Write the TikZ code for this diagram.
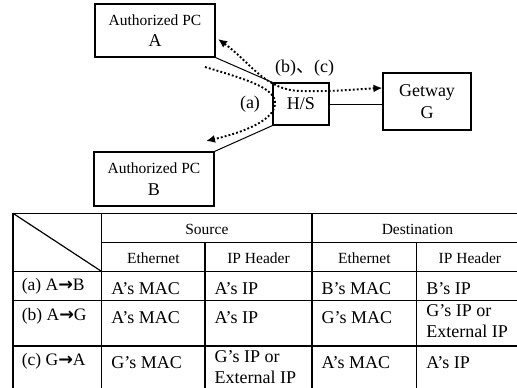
\documentclass[tikz,border=0pt]{standalone}
\usepackage{fontspec}
\setmainfont{Liberation Serif}
\newfontfamily\cjkfont{Noto Sans CJK SC}
\newfontfamily\arrowfont{DejaVu Sans}
\usetikzlibrary{arrows.meta}
\newcommand\pcsize{\fontsize{15.5}{21.5}\selectfont}
\newcommand\bigsize{\fontsize{18}{21.5}\selectfont}
\newcommand\hdsize{\fontsize{15.5}{18}\selectfont}
\newcommand\cellsize{\fontsize{18}{21.5}\selectfont}
\newcommand\rowsize{\fontsize{17.5}{21}\selectfont}
\newcommand\toarrow{{\arrowfont\bfseries →}}

\begin{document}
\begin{tikzpicture}[x=1pt,y=-1pt,
  >={Latex[length=9pt,width=8pt]},
  box/.style={draw,line width=1.2pt,inner sep=0pt,align=center},
  link/.style={line width=1pt},
  flow/.style={line width=1.9pt,dash pattern=on 1.9pt off 2.1pt},
  lab/.style={font=\bigsize,inner sep=0pt},
  grid/.style={line width=1.2pt},
  hd/.style={font=\hdsize,anchor=base,inner sep=0pt},
  cell/.style={font=\cellsize,anchor=base west,inner sep=0pt},
  rowlab/.style={font=\rowsize,anchor=base west,inner sep=0pt},
]
\clip (0,0) rectangle (517,388);

% --- network: two PCs, the hub/switch and the gateway
\node[box,font=\pcsize,minimum width=120pt,minimum height=53pt] (pcA) at (155,30.5)
  {Authorized PC\\{\bigsize A}};
\node[box,font=\pcsize,minimum width=120pt,minimum height=54pt] (pcB) at (154,179)
  {Authorized PC\\{\bigsize B}};
\node[box,minimum width=56pt,minimum height=42pt,font=\bigsize] (hs) at (301,104) {H/S};
\node[box,minimum width=88pt,minimum height=57pt,font=\bigsize] (gw) at (427,101.5)
  {Getway\\[1pt]G};

\draw[link] (pcA.south east) -- (hs.north west);
\draw[link] (hs.south west) -- (pcB.north east);
\draw[link] (hs.east) -- (hs.east -| gw.west);

% --- traffic flows
\coordinate (bcA) at (218,39);
\coordinate (bcG) at (gw.west |- 0,88);
\draw[flow,<->] (bcA) .. controls (250,62) and (265,90) .. (300,91)
  .. controls (330,92) and (360,89) .. (bcG);

\coordinate (aS) at (205,67);
\coordinate (aB) at (206,141);
\draw[flow,->] (aS) .. controls (248,80) and (276,88) .. (275,104)
  .. controls (274,120) and (245,132) .. (aB);

\node[lab] (la) at (250,104) {(a)};
\node[lab,anchor=base west] (lbc) at (275,72) {(b){\cjkfont 、}(c)};

% --- address table
\draw[grid] (13,213.3) -- (523,213.3);
\draw[grid] (101.7,242.7) -- (523,242.7);
\draw[grid] (13,271.5) -- (523,271.5);
\draw[grid] (13,300.5) -- (523,300.5);
\draw[grid] (13,346) -- (523,346);
\draw[grid] (13,213.3) -- (13,392);
\draw[grid] (101.7,213.3) -- (101.7,392);
\draw[grid] (205,242.7) -- (205,392);
\draw[grid] (312,213.3) -- (312,392);
\draw[grid] (416.7,242.7) -- (416.7,392);
\draw[grid] (523,213.3) -- (523,392);
\draw[grid] (13,213.3) -- (101.7,271.5);

\node[hd] (hsrc) at (206.9,234.5) {Source};
\node[hd] (hdst) at (417.5,234.5) {Destination};
\node[hd] (h1) at (153.4,263.5) {Ethernet};
\node[hd] (h2) at (258.5,263.5) {IP Header};
\node[hd] (h3) at (364.4,263.5) {Ethernet};
\node[hd] (h4) at (469.9,263.5) {IP Header};

\node[rowlab] (ra) at (21.7,290.5) {(a) A\toarrow B};
\node[rowlab] (rb) at (21.7,320) {(b) A\toarrow G};
\node[rowlab] (rc) at (21.7,365) {(c) G\toarrow A};

\node[cell] (a1) at (111.2,294.5) {A’s MAC};
\node[cell] (a2) at (214.5,294.5) {A’s IP};
\node[cell] (a3) at (321.5,294.5) {B’s MAC};
\node[cell] (a4) at (426.2,294.5) {B’s IP};

\node[cell] (b1) at (111.2,323) {A’s MAC};
\node[cell] (b2) at (214.5,323) {A’s IP};
\node[cell] (b3) at (321.5,323) {G’s MAC};
\node[cell] (b4a) at (426.2,316) {G’s IP or};
\node[cell] (b4b) at (426.2,337.5) {External IP};

\node[cell] (c1) at (111.2,368.5) {G’s MAC};
\node[cell] (c2a) at (214.5,362) {G’s IP or};
\node[cell] (c2b) at (214.5,383.5) {External IP};
\node[cell] (c3) at (321.5,368.5) {A’s MAC};
\node[cell] (c4) at (426.2,368.5) {A’s IP};
\end{tikzpicture}
\end{document}
